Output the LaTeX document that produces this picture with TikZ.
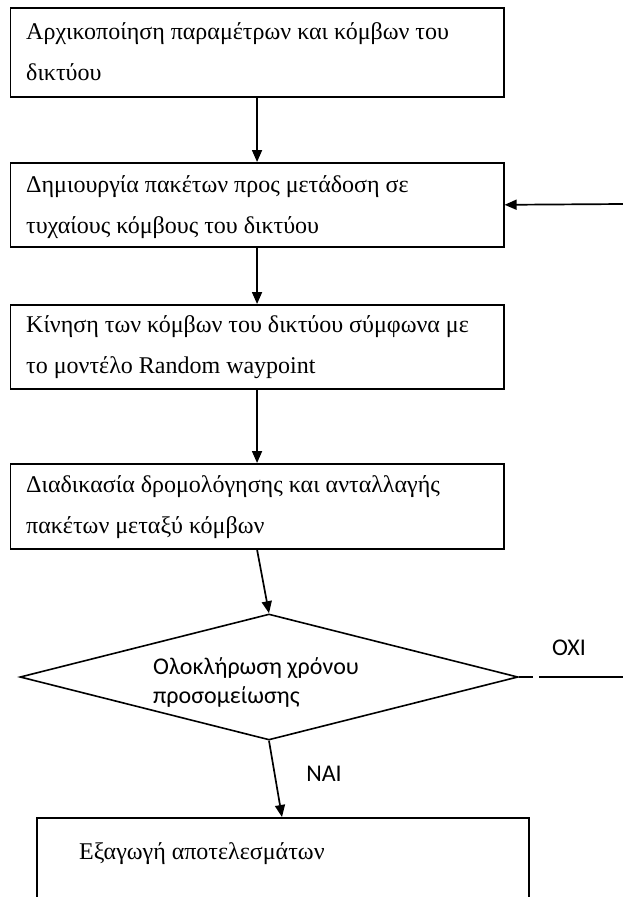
\documentclass[tikz,border=0pt]{standalone}
\usepackage{fontspec}
\setmainfont{Liberation Serif}
\newfontfamily\calib{Carlito}
\usetikzlibrary{arrows.meta,shapes.geometric}
\begin{document}
\begin{tikzpicture}[x=1pt,y=-1pt,
  box/.style={draw,line width=1.6pt,rectangle,anchor=north west,inner sep=0pt},
  boxtext/.style={anchor=west,align=left,inner sep=0pt,font=\fontsize{24}{41}\selectfont},
  conn/.style={line width=1.7pt,-{Triangle[length=12pt,width=10pt]}},
  plain/.style={line width=1.6pt},
  sanslab/.style={font=\calib\fontsize{24}{29}\selectfont,inner sep=0pt,align=left}]
\useasboundingbox[fill=white] (0,0) rectangle (623,897);
\clip (0,0) rectangle (623,897);
% boxes
\node[box,minimum width=493.5pt,minimum height=89pt] (b1) at (9.5,7) {};
\node[box,minimum width=493.5pt,minimum height=84pt] (b2) at (9.5,162) {};
\node[box,minimum width=493.5pt,minimum height=84pt] (b3) at (9.5,304) {};
\node[box,minimum width=493.5pt,minimum height=85pt] (b4) at (9.5,463) {};
\node[box,minimum width=492pt,minimum height=130pt] (b5) at (36,817) {};
% texts
\node[boxtext] (t1) at (26,52) {Αρχικοποίηση παραμέτρων και κόμβων του\\δικτύου};
\node[boxtext] (t2) at (26,207) {Δημιουργία πακέτων προς μετάδοση σε\\τυχαίους κόμβους του δικτύου};
\node[boxtext] (t3) at (26,347) {Κίνηση των κόμβων του δικτύου σύμφωνα με\\το μοντέλο Random waypoint};
\node[boxtext] (t4) at (26,507) {Διαδικασία δρομολόγησης και ανταλλαγής\\πακέτων μεταξύ κόμβων};
\node[boxtext] (t5) at (79,854) {Εξαγωγή αποτελεσμάτων};
% decision
\node[draw,plain,diamond,minimum width=498pt,minimum height=126pt,inner sep=0pt] (d) at (269,677) {};
\node[sanslab,anchor=west] (dt) at (153,682) {Ολοκλήρωση χρόνου\\προσομείωσης};
\node[sanslab,anchor=center] (nai) at (324,774) {ΝΑΙ};
\node[sanslab,anchor=center] (oxi) at (569,648) {ΟΧΙ};
% connectors
\coordinate (back) at (623,204);
\coordinate (g1) at (533,677);
\coordinate (g2) at (539,677);
\coordinate (g3) at (623,677);
\draw[conn] (b1.south) -- (b2.north);
\draw[conn] (back) -- (b2.east);
\draw[conn] (b2.south) -- (b3.north);
\draw[conn] (b3.south) -- (b4.north);
\draw[conn] (b4.south) -- (d.north);
\draw[conn] (d.south) -- (282,0 |- b5.north);
\draw[plain] (d.east) -- (g1);
\draw[plain] (g2) -- (g3);
\end{tikzpicture}
\end{document}
